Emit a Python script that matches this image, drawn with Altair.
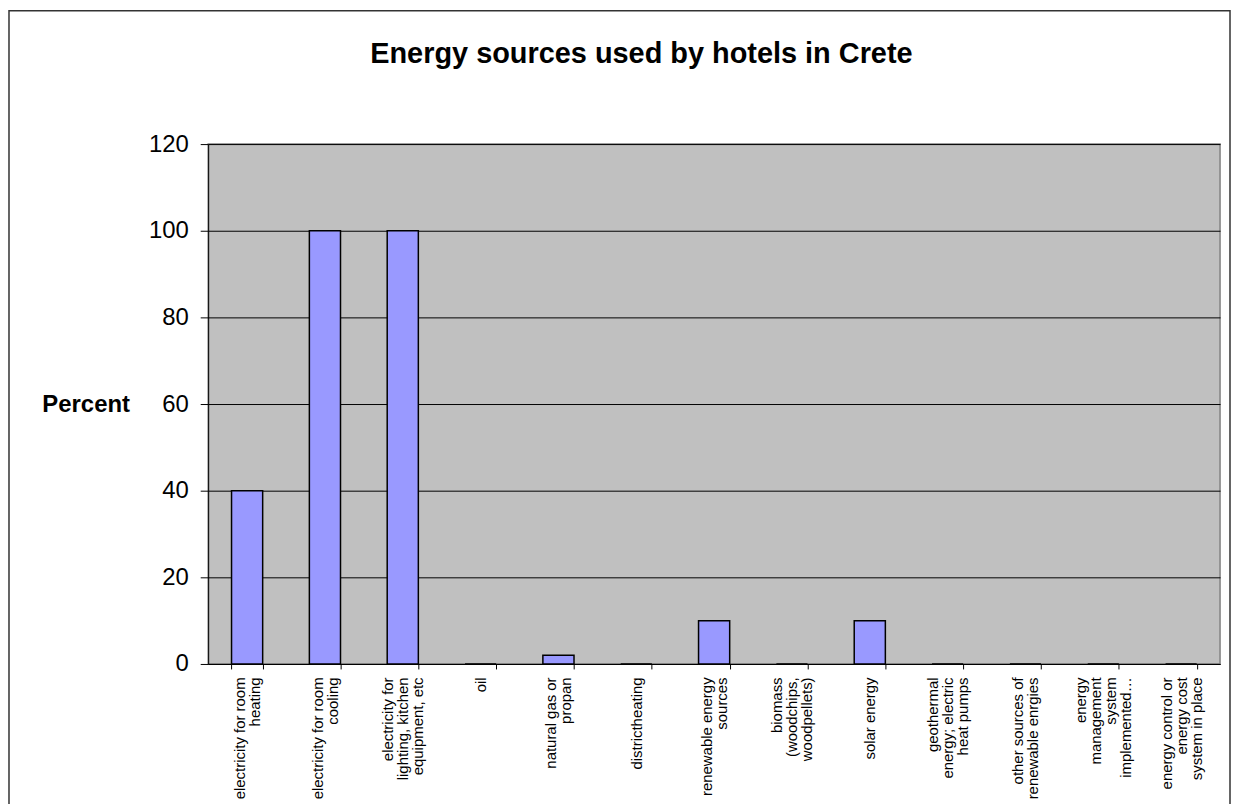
import altair as alt
import pandas as pd

categories = [
    "electricity for room|heating",
    "electricity for room|cooling",
    "electricity for|lighting, kitchen|equipment, etc",
    "oil",
    "natural gas or|propan",
    "districtheating",
    "renewable energy|sources",
    "biomass|(woodchips,|woodpellets)",
    "solar energy",
    "geothermal|energy; electric|heat pumps",
    "other sources of|renewable enrgies",
    "energy|management|system|implemented…",
    "energy control or|energy cost|system in place",
]
percent = [40, 100, 100, 0, 2, 0, 10, 0, 10, 0, 0, 0, 0]
y_ticks = [0, 20, 40, 60, 80, 100, 120]

df = pd.DataFrame({"category": categories, "percent": percent})
FONT = "Liberation Sans"
LINE_H = 15

label_offset = {
    "condition": [
        {"test": f"length(split(datum.value, '|')) == {n}", "value": -(n - 1) * LINE_H / 2}
        for n in (2, 3, 4)
    ],
    "value": 0,
}

bars = alt.Chart(df).mark_bar(
    color="#9999FF", stroke="#000000", strokeWidth=1.5
).encode(
    x=alt.X(
        "category:N",
        sort=None,
        scale=alt.Scale(paddingInner=0.6, paddingOuter=0.3),
        axis=alt.Axis(
            title=None,
            labelAngle=270,
            labelAlign="right",
            labelBaseline="middle",
            labelExpr="split(datum.label, '|')",
            labelFontSize=15,
            labelLineHeight=LINE_H,
            labelPadding=8,
            labelLimit=0,
            labelOverlap=False,
            labelOffset=label_offset,
            tickBand="extent",
            tickSize=5,
            tickColor="#000000",
            domainColor="#000000",
            labelColor="#000000",
            labelFont=FONT,
        ),
    ),
    y=alt.Y(
        "percent:Q",
        scale=alt.Scale(domain=[0, 120], nice=False),
        axis=alt.Axis(
            title="Percent",
            titleAngle=0,
            titleAlign="right",
            titleBaseline="middle",
            titleX=-79,
            titleY=261,
            titleFontSize=24,
            titleFontWeight="bold",
            titleFont=FONT,
            titleColor="#000000",
            values=y_ticks,
            labelFontSize=24,
            labelFont=FONT,
            labelColor="#000000",
            labelPadding=12,
            tickSize=8,
            tickColor="#000000",
            domainColor="#000000",
            grid=True,
            gridColor="#000000",
            gridWidth=1,
        ),
    ),
)

border = alt.Chart(alt.Data(values=[{"a": 1}])).mark_rect(
    fill=None, stroke="#333333", strokeWidth=1.5
).encode(
    x=alt.value(-200), x2=alt.value(1026), y=alt.value(-134), y2=alt.value(700)
)

chart = alt.layer(bars, border).properties(
    width=1016,
    height=522,
    autosize=alt.AutoSizeParams(type="none"),
    padding={"left": 201, "top": 135, "right": 11, "bottom": 150},
    title=alt.TitleParams(
        "Energy sources used by hotels in Crete",
        fontSize=29,
        fontWeight="bold",
        font=FONT,
        color="#000000",
        anchor="middle",
        dx=-73,
        dy=59,
        offset=0,
    ),
).configure_view(
    fill="#C0C0C0", stroke="#808080", strokeWidth=1.5
)

chart.save("out.html", embed_options={"renderer": "svg", "actions": False})
